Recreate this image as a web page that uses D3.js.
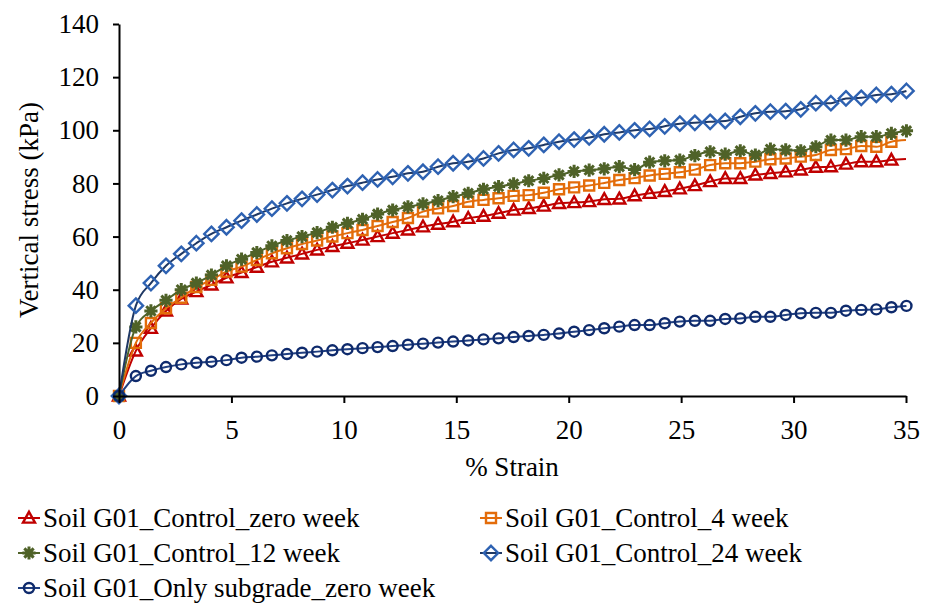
<!DOCTYPE html>
<html>
<head>
<meta charset="utf-8">
<script src="https://cdn.jsdelivr.net/npm/d3@7"></script>
<style>
    body { margin: 0; background: #fff; }
    svg text { font-family: "Liberation Serif", "Times New Roman", Times, Tinos, "DejaVu Serif", serif; fill: #000; }
</style>
</head>
<body>
<svg id="chart" width="935" height="606"></svg>
<script>
// strain (%) of each recorded point
var strain = [0, 0.75, 1.42, 2.09, 2.77, 3.44, 4.11, 4.78, 5.45, 6.13, 6.80, 7.47, 8.14, 8.81, 9.49,
    10.16, 10.83, 11.50, 12.17, 12.85, 13.52, 14.19, 14.86, 15.53, 16.21, 16.88, 17.55, 18.22, 18.89,
    19.57, 20.24, 20.91, 21.58, 22.25, 22.93, 23.60, 24.27, 24.94, 25.61, 26.29, 26.96, 27.63, 28.30,
    28.97, 29.65, 30.32, 30.99, 31.66, 32.33, 33.01, 33.68, 34.35, 35.02];

// vertical stress (kPa)
var controlZeroWeek = [0, 17, 25.5, 32, 36.5, 39.3, 41.8, 44.5, 46.5, 48.5, 50.5, 52, 53.5, 55, 56.3,
    57.5, 58.7, 60, 61.3, 62.5, 63.7, 64.7, 65.6, 66.9, 67.7, 68.8, 70, 70.6, 71.5, 72.5, 72.8, 73.2,
    74, 74.2, 75.4, 76.3, 77, 78, 79.2, 80.7, 81.9, 81.9, 83.2, 83.8, 84.4, 85.1, 86.1, 86.3, 87.3,
    88.2, 88.2, 88.8];
var control4Week = [0, 20, 27.5, 33, 37, 41, 43.7, 46.8, 48.7, 51.2, 53.7, 55.6, 57.2, 58.5, 60,
    61.3, 62.5, 64, 65.5, 67, 69.4, 70.6, 71.5, 73.1, 73.8, 74.4, 75.3, 75.6, 76.5, 77.8, 78.5, 79.2,
    80.2, 81.3, 82, 83, 83.6, 84.2, 85.2, 86.9, 87.6, 87.6, 88.2, 89.1, 89.4, 90.1, 90.7, 92.6, 92.9,
    94.1, 93.8, 95.7];
var control12Week = [0, 26, 32, 36, 40, 42.5, 45.5, 49, 51.5, 54, 56.5, 58.5, 60, 61.5, 63.5,
    65, 66.5, 68.5, 70, 71.2, 72.3, 73.5, 75, 76.3, 77.8, 78.8, 79.8, 81, 81.9, 83.2, 84.5, 85,
    85.5, 86.3, 85.2, 88, 88.5, 88.8, 90.5, 91.9, 91, 92.3, 90.7, 92.9, 92.6, 92.3, 93.8, 96.3, 96.3,
    97.6, 97.6, 98.8, 99.8];
var control24Week = [0, 34, 42.5, 49, 53.5, 57.5, 61, 63.5, 66, 68.3, 70.5, 72.5, 74.2, 75.8, 77.5,
    79, 80.3, 81.5, 82.5, 83.8, 84.4, 86.3, 87.6, 88.2, 89.4, 91.3, 92.6, 93.2, 94.5, 95.7, 96.5, 97.3,
    98.5, 99.2, 100, 100.5, 101.5, 102.5, 102.8, 103.2, 103.5, 105.1, 106.4, 107, 107.2, 107.9, 110.2,
    110.2, 112, 112.2, 113.3, 113.6, 114.8];
var subgradeZeroWeek = [0, 7.5, 9.5, 10.9, 11.9, 12.5, 12.9, 13.5, 14.4, 14.8, 15.3, 15.8, 16.3, 16.7,
    17.2, 17.6, 18, 18.4, 18.8, 19.3, 19.7, 20.1, 20.5, 20.9, 21.3, 21.7, 22.2, 22.6, 23, 23.5, 24.2,
    24.8, 25.5, 26.1, 26.7, 26.7, 27.4, 28, 28.3, 28.3, 29, 29.2, 29.8, 29.8, 30.5, 31.1, 31.3, 31.3,
    32.1, 32.4, 32.6, 33.4, 33.9];

// the connecting line of the first two series runs on to 35 % strain
var lineEndStrain = 35;
var lineEndStress = [89.2, 96.3, null, null, null];

var seriesNames = ["Soil G01_Control_zero week", "Soil G01_Control_4 week", "Soil G01_Control_12 week",
    "Soil G01_Control_24 week", "Soil G01_Only subgrade_zero week"];
var seriesValues = [controlZeroWeek, control4Week, control12Week, control24Week, subgradeZeroWeek];
var seriesMarkers = ["triangle", "square", "star", "diamond", "circle"];
var markerColors = ["#C00000", "#E36C0A", "#4F6228", "#2E62B2", "#0E2A6C"];
var lineColors = ["#C00000", "#E36C0A", "#4F6228", "#1F3864", "#203F80"];

var xTicks = [0, 5, 10, 15, 20, 25, 30, 35];
var yTicks = [0, 20, 40, 60, 80, 100, 120, 140];

var FONT = "'Liberation Serif', 'Times New Roman', Times, Tinos, 'DejaVu Serif', serif";

var svg = d3.select("#chart");

var x = d3.scaleLinear().domain([0, 35]).range([119, 906]);
var y = d3.scaleLinear().domain([0, 140]).range([396, 24]);

// marker shapes, centred on 0,0
function markerPath(type) {
    var p = d3.path();
    if (type === "triangle") {
        p.moveTo(0, -6.2); p.lineTo(6, 4.6); p.lineTo(-6, 4.6); p.closePath();
    } else if (type === "square") {
        p.rect(-5, -5, 10, 10);
    } else if (type === "diamond") {
        p.moveTo(0, -7.2); p.lineTo(7.2, 0); p.lineTo(0, 7.2); p.lineTo(-7.2, 0); p.closePath();
    } else if (type === "circle") {
        p.arc(0, 0, 5, 0, 2 * Math.PI);
    } else if (type === "star") {
        var r = 6.6;
        for (var a = 0; a < 4; a++) {
            var ang = a * Math.PI / 4;
            p.moveTo(-r * Math.cos(ang), -r * Math.sin(ang));
            p.lineTo(r * Math.cos(ang), r * Math.sin(ang));
        }
    }
    return p.toString();
}

var line = d3.line()
    .x((d) => x(d[0]))
    .y((d) => y(d[1]))
    .curve(d3.curveMonotoneX);

var plot = svg.append("g");

seriesValues.forEach((vals, i) => {
    var pts = vals.map((v, j) => [strain[j], v]);
    var linePts = pts.slice();
    if (lineEndStress[i] != null) linePts.push([lineEndStrain, lineEndStress[i]]);

    var g = plot.append("g");
    g.append("path")
        .attr("d", line(linePts))
        .attr("fill", "none")
        .attr("stroke", lineColors[i])
        .attr("stroke-width", 2);

    g.selectAll(".m")
        .data(pts)
        .enter()
        .append("path")
        .attr("class", "m")
        .attr("transform", (d) => "translate(" + x(d[0]) + "," + y(d[1]) + ")")
        .attr("d", markerPath(seriesMarkers[i]))
        .attr("fill", "none")
        .attr("stroke", markerColors[i])
        .attr("stroke-width", seriesMarkers[i] === "star" ? 3 : 2.4);
});

// axes
var xAxis = svg.append("g")
    .attr("transform", "translate(0,396)")
    .call(d3.axisBottom(x).tickValues(xTicks).tickSize(7).tickSizeOuter(0).tickPadding(17));
var yAxis = svg.append("g")
    .attr("transform", "translate(119,0)")
    .call(d3.axisLeft(y).tickValues(yTicks).tickSize(6).tickSizeOuter(0).tickPadding(14));

[xAxis, yAxis].forEach((a) => {
    a.attr("font-family", FONT).attr("font-size", 27);
    a.select(".domain").attr("stroke", "#000").attr("stroke-width", 2);
    a.selectAll(".tick line").attr("stroke", "#000").attr("stroke-width", 2);
    a.selectAll(".tick text").attr("fill", "#000");
});

svg.append("text")
    .attr("x", 512)
    .attr("y", 476)
    .attr("text-anchor", "middle")
    .attr("font-family", FONT)
    .attr("font-size", 27)
    .text("% Strain");

svg.append("text")
    .attr("transform", "translate(38,210) rotate(-90)")
    .attr("text-anchor", "middle")
    .attr("font-family", FONT)
    .attr("font-size", 27)
    .text("Vertical  stress (kPa)");

// legend
var legendPos = [[18, 518], [480, 518], [18, 553], [480, 553], [18, 588]];
var legend = svg.append("g");
seriesNames.forEach((name, i) => {
    var lx = legendPos[i][0], ly = legendPos[i][1];
    var item = legend.append("g").attr("transform", "translate(" + lx + "," + ly + ")");
    item.append("line")
        .attr("x1", 0).attr("x2", 22)
        .attr("y1", 0).attr("y2", 0)
        .attr("stroke", lineColors[i])
        .attr("stroke-width", 2);
    item.append("path")
        .attr("transform", "translate(11,0)")
        .attr("d", markerPath(seriesMarkers[i]))
        .attr("fill", "none")
        .attr("stroke", markerColors[i])
        .attr("stroke-width", seriesMarkers[i] === "star" ? 3 : 2.4);
    item.append("text")
        .attr("x", 25)
        .attr("y", 9)
        .attr("font-family", FONT)
        .attr("font-size", 27)
        .text(name);
});
</script>
</body>
</html>
